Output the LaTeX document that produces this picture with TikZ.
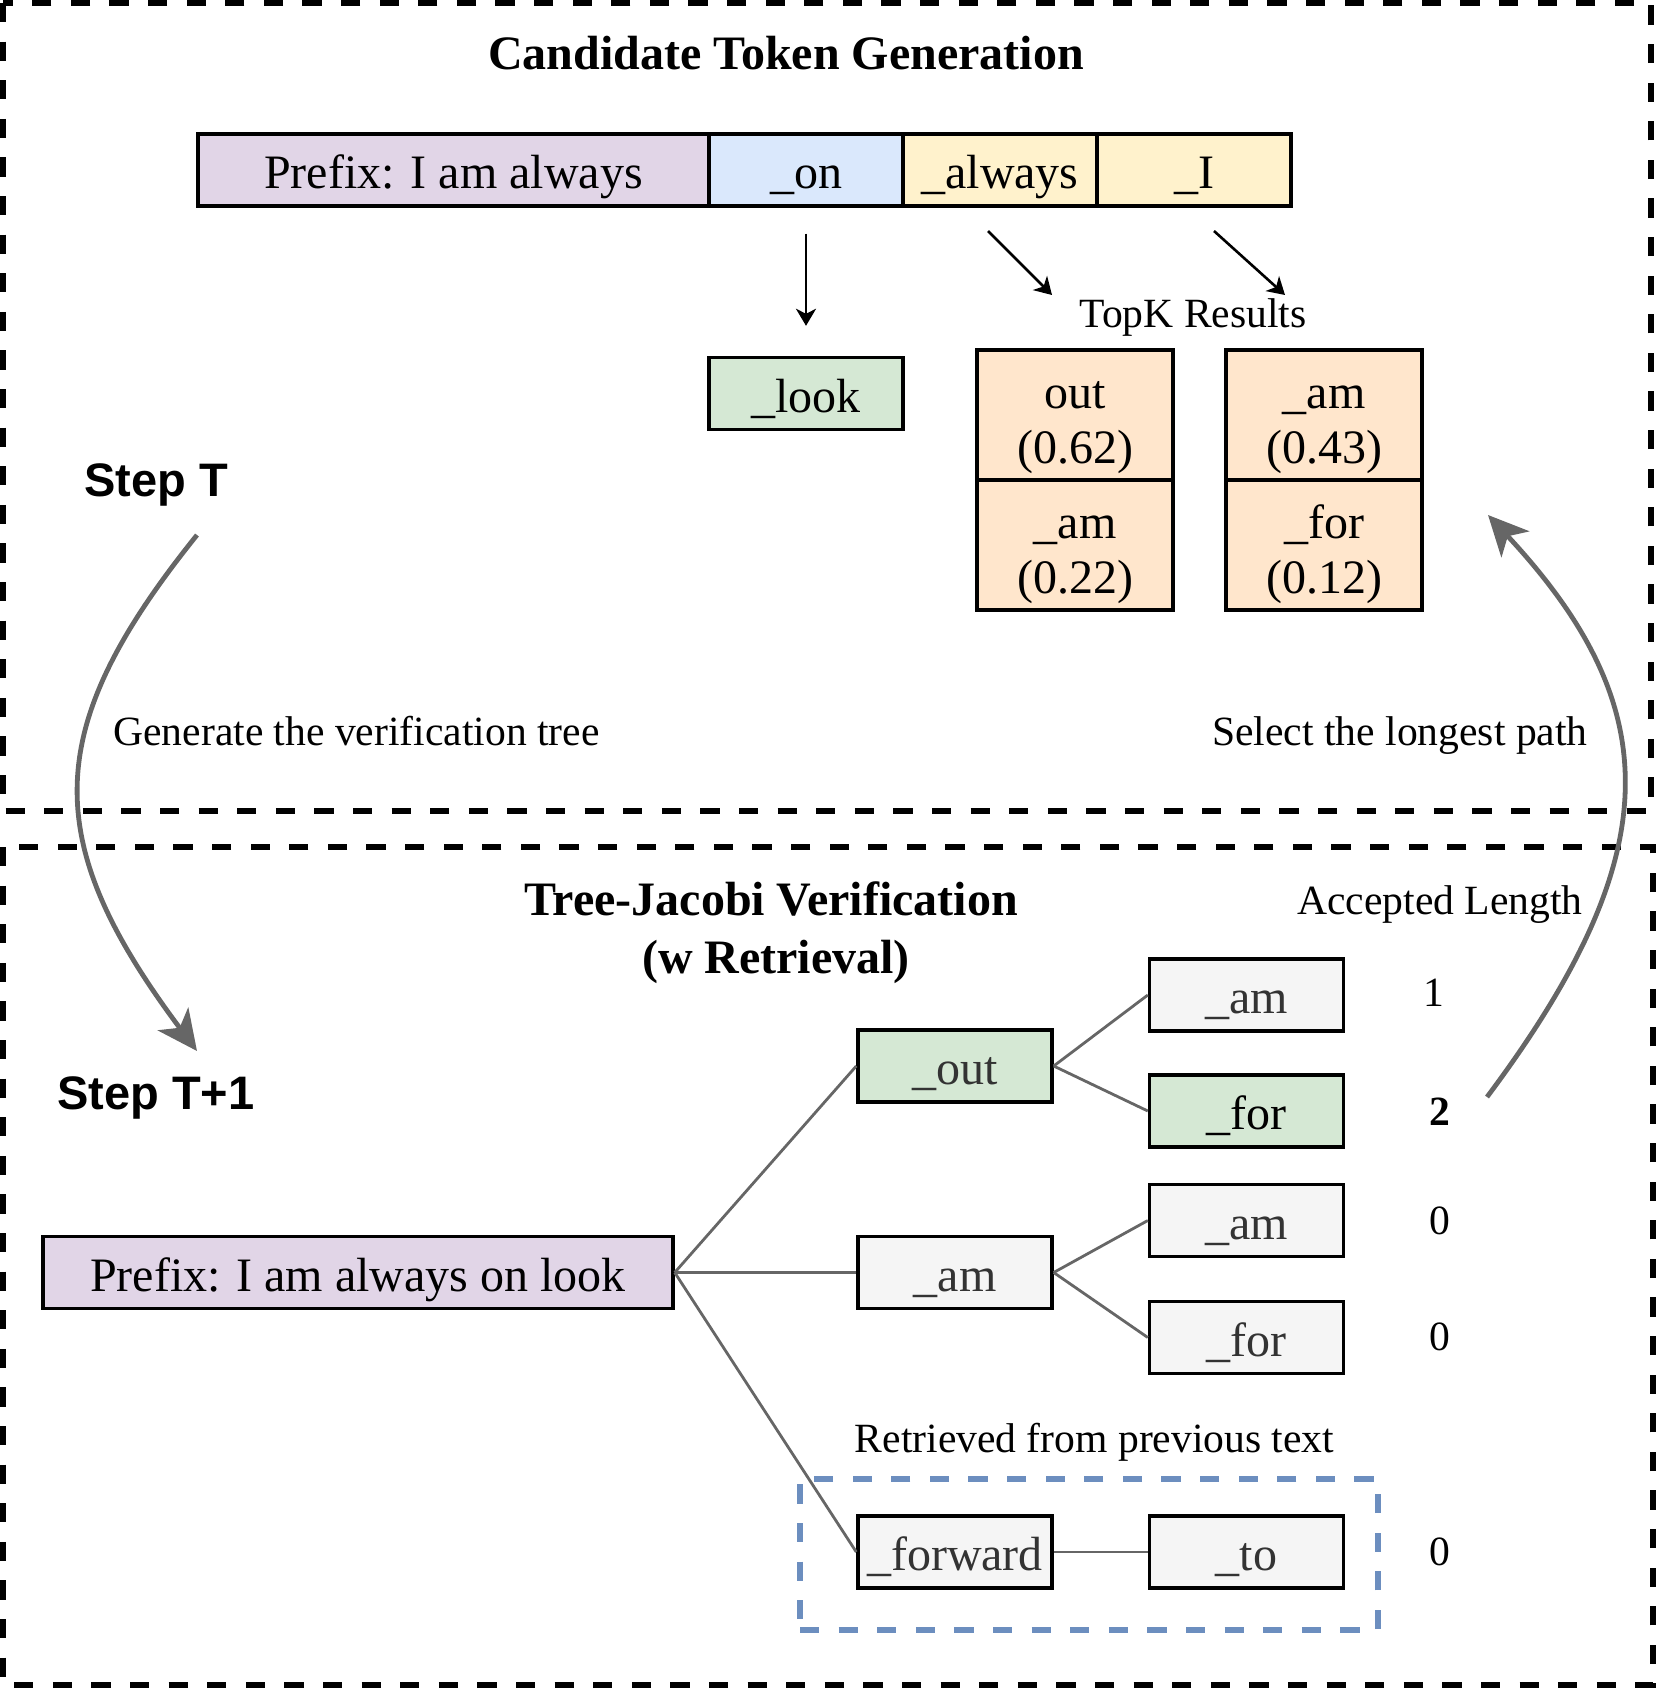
\documentclass[tikz,border=0pt]{standalone}
\usepackage{fontspec}
\setmainfont{Liberation Serif}
\newfontfamily\arialfont{Liberation Sans}
\usetikzlibrary{arrows.meta}
\definecolor{purpleF}{HTML}{E1D5E7}
\definecolor{blueF}{HTML}{DAE8FC}
\definecolor{yellowF}{HTML}{FFF2CC}
\definecolor{greenF}{HTML}{D5E8D4}
\definecolor{orangeF}{HTML}{FFE6CC}
\definecolor{grayF}{HTML}{F5F5F5}
\definecolor{grayT}{HTML}{333333}
\definecolor{edgeC}{HTML}{666666}
\definecolor{retC}{HTML}{6C8EBF}
\newcommand\tstrut{\rule[-3.5pt]{0pt}{29.5pt}}
\newcommand\bstrut{\rule[-3.5pt]{0pt}{25.5pt}}
\tikzset{
  tok/.style={draw=black, line width=1.7pt, inner sep=0pt, minimum height=36pt,
    minimum width=97pt, text height=22pt, text depth=3.5pt,
    font=\fontsize{24pt}{28pt}\selectfont},
  cell/.style={draw=black, line width=1.7pt, inner sep=0pt, minimum height=65pt,
    minimum width=98pt, fill=orangeF, align=center,
    font=\fontsize{24pt}{27.5pt}\selectfont},
  graybox/.style={tok, fill=grayF, text=grayT},
  lbl/.style={inner sep=0pt, anchor=base, font=\fontsize{20.8pt}{25pt}\selectfont},
  num/.style={inner sep=0pt, font=\fontsize{20.8pt}{25pt}\selectfont},
  ttl/.style={inner sep=0pt, anchor=base, font=\fontsize{24pt}{29pt}\selectfont\bfseries},
  steplbl/.style={inner sep=0pt, anchor=base west, font=\fontsize{23.5pt}{28pt}\arialfont\bfseries},
  frame/.style={line width=3.1pt, dash pattern=on 9.6pt off 9.7pt},
  arr/.style={line width=1.3pt, -{Stealth[length=8.5pt,width=10pt,inset=2.5pt]}},
  bigarr/.style={edgeC, line width=2.4pt, -{Stealth[length=20pt,width=19pt,inset=5.5pt]}},
  edge/.style={edgeC, line width=1.4pt}
}
\begin{document}
\begin{tikzpicture}[x=0.5pt,y=-0.5pt]
\useasboundingbox (0,0) rectangle (1661,1691);
% frames
\draw[frame] (3,3) rectangle (1651,811);
\draw[frame] (3,847) rectangle (1653,1685);

% ---------- top part ----------
\node[ttl] (t1) at (786,70) {Candidate Token Generation};
\node[tok, fill=purpleF, minimum width=255.5pt] (pre) at (453.5,170) {Prefix: I am always};
\node[tok, fill=blueF] (on) at (806,170) {\_on};
\node[tok, fill=yellowF] (alw) at (1000,170) {\_always};
\node[tok, fill=yellowF] (tI) at (1194,170) {\_I};

\node[tok, fill=greenF] (look) at (806,393.5) {\_look};

\node[lbl] (topk) at (1193,327) {TopK Results};

\node[cell] (c1) at (1075,415) {\tstrut out\\\bstrut(0.62)};
\node[cell] (c2) at (1075,545) {\tstrut\_am\\\bstrut(0.22)};
\node[cell] (c3) at (1324,415) {\tstrut\_am\\\bstrut(0.43)};
\node[cell] (c4) at (1324,545) {\tstrut\_for\\\bstrut(0.12)};

\coordinate (a2s) at (988,231);
\coordinate (a2e) at (1052,295);
\coordinate (a3s) at (1214,231);
\coordinate (a3e) at (1285,295);
\draw[arr] ([yshift=-13pt]on.south) -- ([yshift=15pt]look.north);
\draw[arr] (a2s) -- (a2e);
\draw[arr] (a3s) -- (a3e);

\node[steplbl] (stepT) at (84,496) {Step T};
\node[lbl, anchor=base west] (gen) at (113,745) {Generate the verification tree};
\node[lbl, anchor=base east] (sel) at (1588,745) {Select the longest path};

% ---------- bottom part ----------
\node[ttl] (t2) at (771,915) {Tree-Jacobi Verification};
\node[ttl] (t3) at (776,973) {(w Retrieval)};
\node[lbl] (acc) at (1440,914) {Accepted Length};
\node[steplbl] (stepT1) at (57,1109) {Step T+1};

\node[tok, fill=purpleF, minimum width=315pt] (pre2) at (358,1272.5) {Prefix: I am always on look};
\node[tok, fill=greenF, text=grayT] (out) at (955,1066) {\_out};
\node[graybox] (am) at (955,1272.5) {\_am};
\node[graybox] (fwd) at (955,1552) {\_forward};

\node[graybox] (am1) at (1246.5,995) {\_am};
\node[tok, fill=greenF] (for1) at (1246.5,1111) {\_for};
\node[graybox] (am2) at (1246.5,1220.5) {\_am};
\node[graybox] (for2) at (1246.5,1337.5) {\_for};
\node[graybox] (to) at (1246.5,1552) {\_to};

\node[num] (n1) at (1434,993) {1};
\node[num] (n2) at (1440,1112) {\bfseries 2};
\node[num] (n3) at (1440,1221) {0};
\node[num] (n4) at (1440,1337) {0};
\node[num] (n5) at (1440,1552) {0};

\node[lbl] (retl) at (1094.5,1452) {Retrieved from previous text};
\node[draw=retC, line width=3pt, dash pattern=on 9.6pt off 9.7pt, inner sep=0pt,
      minimum width=289pt, minimum height=75.5pt] (retbox) at (1089,1554.5) {};

\draw[edge] (pre2.east) -- (out.west);
\draw[edge] (pre2.east) -- (am.west);
\draw[edge] (pre2.east) -- (fwd.west);
\draw[edge] (out.east) -- (am1.west);
\draw[edge] (out.east) -- (for1.west);
\draw[edge] (am.east) -- (am2.west);
\draw[edge] (am.east) -- (for2.west);
\draw[edge] (fwd.east) -- (to.west);

% curved arrows
\coordinate (lcs) at (197,535);
\coordinate (lce) at (197,1051);
\coordinate (rcs) at (1487,1097);
\coordinate (rce) at (1488,515);
\draw[bigarr] (lcs) .. controls (40,730) and (40,841) .. (lce);
\draw[bigarr] (rcs) .. controls (1668,855) and (1668,708) .. (rce);
\end{tikzpicture}
\end{document}
